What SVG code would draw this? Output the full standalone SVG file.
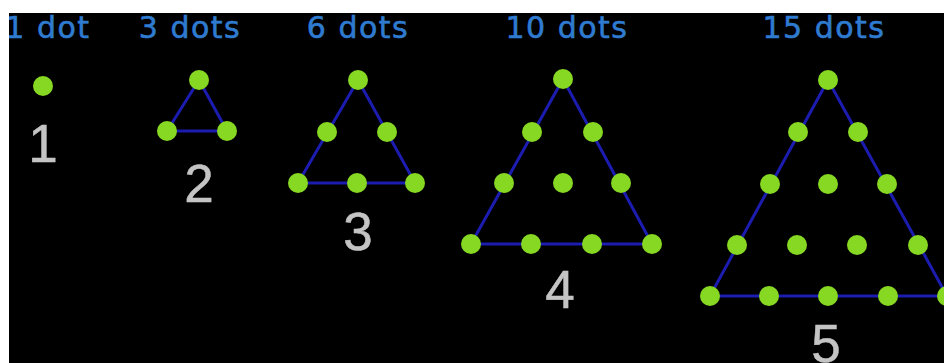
<svg xmlns="http://www.w3.org/2000/svg" width="944" height="363" viewBox="0 0 944 363">
<style>
.title{font-family:"DejaVu Sans","Liberation Sans",sans-serif;font-size:30px;fill:#2f7bd0;stroke:#2f7bd0;stroke-width:0.6px;text-anchor:middle;letter-spacing:1.5px}
.num{font-family:"Liberation Sans","DejaVu Sans",sans-serif;font-size:53px;fill:#c4c4c4;stroke:#c4c4c4;stroke-width:0.5px;text-anchor:middle}
.edge{stroke:#1c1cb0;stroke-width:3;fill:none;stroke-linejoin:round}
.dot{fill:#86d823}
</style>
<rect x="0" y="0" width="944" height="363" fill="#000"/>
<g id="connectors">
<polygon class="edge" points="199,80 167,131 227,131"/>
<polygon class="edge" points="358,80 298,183 415,183"/>
<polygon class="edge" points="563,79 471,244 652,244"/>
<polygon class="edge" points="828,80 710,296 947,296"/>
</g>
<g id="n1">
<text class="title" x="48" y="38">1 dot</text>
<circle class="dot" cx="43" cy="86" r="10"/>
<text class="num" x="43" y="162">1</text>
</g>
<g id="n2">
<text class="title" x="190" y="38">3 dots</text>
<circle class="dot" cx="199" cy="80" r="10"/>
<circle class="dot" cx="167" cy="131" r="10"/>
<circle class="dot" cx="227" cy="131" r="10"/>
<text class="num" x="199" y="202">2</text>
</g>
<g id="n3">
<text class="title" x="358" y="38">6 dots</text>
<circle class="dot" cx="358" cy="80" r="10"/>
<circle class="dot" cx="327" cy="132" r="10"/>
<circle class="dot" cx="387" cy="132" r="10"/>
<circle class="dot" cx="298" cy="183" r="10"/>
<circle class="dot" cx="357" cy="183" r="10"/>
<circle class="dot" cx="415" cy="183" r="10"/>
<text class="num" x="358" y="250">3</text>
</g>
<g id="n4">
<text class="title" x="567" y="38">10 dots</text>
<circle class="dot" cx="563" cy="79" r="10"/>
<circle class="dot" cx="532" cy="132" r="10"/>
<circle class="dot" cx="593" cy="132" r="10"/>
<circle class="dot" cx="504" cy="183" r="10"/>
<circle class="dot" cx="563" cy="183" r="10"/>
<circle class="dot" cx="621" cy="183" r="10"/>
<circle class="dot" cx="471" cy="244" r="10"/>
<circle class="dot" cx="531" cy="244" r="10"/>
<circle class="dot" cx="592" cy="244" r="10"/>
<circle class="dot" cx="652" cy="244" r="10"/>
<text class="num" x="560" y="308">4</text>
</g>
<g id="n5">
<text class="title" x="824" y="38">15 dots</text>
<circle class="dot" cx="828" cy="80" r="10"/>
<circle class="dot" cx="798" cy="132" r="10"/>
<circle class="dot" cx="858" cy="132" r="10"/>
<circle class="dot" cx="770" cy="184" r="10"/>
<circle class="dot" cx="828" cy="184" r="10"/>
<circle class="dot" cx="887" cy="184" r="10"/>
<circle class="dot" cx="737" cy="245" r="10"/>
<circle class="dot" cx="797" cy="245" r="10"/>
<circle class="dot" cx="857" cy="245" r="10"/>
<circle class="dot" cx="918" cy="245" r="10"/>
<circle class="dot" cx="710" cy="296" r="10"/>
<circle class="dot" cx="769" cy="296" r="10"/>
<circle class="dot" cx="828" cy="296" r="10"/>
<circle class="dot" cx="888" cy="296" r="10"/>
<circle class="dot" cx="947" cy="296" r="10"/>
<text class="num" x="826" y="362">5</text>
</g>
<rect x="0" y="0" width="944" height="13" fill="#fff"/>
<rect x="0" y="0" width="9" height="363" fill="#fff"/>
</svg>
